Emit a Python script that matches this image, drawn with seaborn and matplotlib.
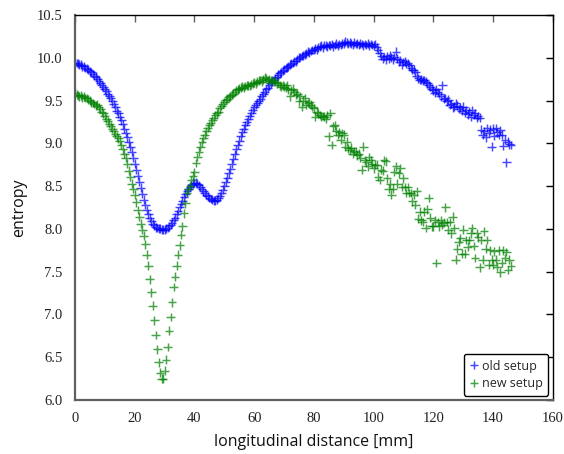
import matplotlib
matplotlib.use("Agg")
import matplotlib.pyplot as plt
import seaborn as sns
import pandas as pd
from matplotlib.ticker import FormatStrFormatter, MultipleLocator

# Sampling positions along the beam axis [mm] (0.5 mm steps)
distance_mm = [
    0.0, 0.5, 1.0, 1.5, 2.0, 2.5, 3.0, 3.5, 4.0, 4.5, 5.0, 5.5, 6.0, 6.5, 7.0, 7.5, 8.0, 8.5, 9.0, 9.5,
    10.0, 10.5, 11.0, 11.5, 12.0, 12.5, 13.0, 13.5, 14.0, 14.5, 15.0, 15.5, 16.0, 16.5, 17.0, 17.5, 18.0, 18.5, 19.0, 19.5,
    20.0, 20.5, 21.0, 21.5, 22.0, 22.5, 23.0, 23.5, 24.0, 24.5, 25.0, 25.5, 26.0, 26.5, 27.0, 27.5, 28.0, 28.5, 29.0, 29.5,
    30.0, 30.5, 31.0, 31.5, 32.0, 32.5, 33.0, 33.5, 34.0, 34.5, 35.0, 35.5, 36.0, 36.5, 37.0, 37.5, 38.0, 38.5, 39.0, 39.5,
    40.0, 40.5, 41.0, 41.5, 42.0, 42.5, 43.0, 43.5, 44.0, 44.5, 45.0, 45.5, 46.0, 46.5, 47.0, 47.5, 48.0, 48.5, 49.0, 49.5,
    50.0, 50.5, 51.0, 51.5, 52.0, 52.5, 53.0, 53.5, 54.0, 54.5, 55.0, 55.5, 56.0, 56.5, 57.0, 57.5, 58.0, 58.5, 59.0, 59.5,
    60.0, 60.5, 61.0, 61.5, 62.0, 62.5, 63.0, 63.5, 64.0, 64.5, 65.0, 65.5, 66.0, 66.5, 67.0, 67.5, 68.0, 68.5, 69.0, 69.5,
    70.0, 70.5, 71.0, 71.5, 72.0, 72.5, 73.0, 73.5, 74.0, 74.5, 75.0, 75.5, 76.0, 76.5, 77.0, 77.5, 78.0, 78.5, 79.0, 79.5,
    80.0, 80.5, 81.0, 81.5, 82.0, 82.5, 83.0, 83.5, 84.0, 84.5, 85.0, 85.5, 86.0, 86.5, 87.0, 87.5, 88.0, 88.5, 89.0, 89.5,
    90.0, 90.5, 91.0, 91.5, 92.0, 92.5, 93.0, 93.5, 94.0, 94.5, 95.0, 95.5, 96.0, 96.5, 97.0, 97.5, 98.0, 98.5, 99.0, 99.5,
    100.0, 100.5, 101.0, 101.5, 102.0, 102.5, 103.0, 103.5, 104.0, 104.5, 105.0, 105.5, 106.0, 106.5, 107.0, 107.5, 108.0, 108.5, 109.0, 109.5,
    110.0, 110.5, 111.0, 111.5, 112.0, 112.5, 113.0, 113.5, 114.0, 114.5, 115.0, 115.5, 116.0, 116.5, 117.0, 117.5, 118.0, 118.5, 119.0, 119.5,
    120.0, 120.5, 121.0, 121.5, 122.0, 122.5, 123.0, 123.5, 124.0, 124.5, 125.0, 125.5, 126.0, 126.5, 127.0, 127.5, 128.0, 128.5, 129.0, 129.5,
    130.0, 130.5, 131.0, 131.5, 132.0, 132.5, 133.0, 133.5, 134.0, 134.5, 135.0, 135.5, 136.0, 136.5, 137.0, 137.5, 138.0, 138.5, 139.0, 139.5,
    140.0, 140.5, 141.0, 141.5, 142.0, 142.5, 143.0, 143.5, 144.0, 144.5, 145.0, 145.5, 146.0,
]

# Entropy measured with the old setup
entropy_old = [
    9.94, 9.94, 9.93, 9.92, 9.92, 9.90, 9.90, 9.88, 9.87, 9.86, 9.84, 9.83, 9.81, 9.79, 9.78, 9.75, 9.73, 9.71, 9.68, 9.66,
    9.63, 9.61, 9.58, 9.55, 9.53, 9.49, 9.46, 9.42, 9.38, 9.35, 9.31, 9.27, 9.22, 9.17, 9.12, 9.07, 9.01, 8.96, 8.90, 8.83,
    8.76, 8.69, 8.62, 8.55, 8.48, 8.41, 8.34, 8.28, 8.22, 8.17, 8.13, 8.09, 8.06, 8.04, 8.02, 8.01, 8.00, 8.00, 7.99, 7.99,
    7.99, 8.00, 8.01, 8.03, 8.05, 8.07, 8.10, 8.13, 8.17, 8.21, 8.25, 8.29, 8.33, 8.37, 8.41, 8.44, 8.47, 8.49, 8.51, 8.53,
    8.54, 8.54, 8.53, 8.51, 8.49, 8.47, 8.44, 8.42, 8.40, 8.38, 8.36, 8.35, 8.34, 8.33, 8.33, 8.34, 8.36, 8.38, 8.42, 8.46,
    8.50, 8.55, 8.60, 8.65, 8.70, 8.76, 8.82, 8.87, 8.93, 8.98, 9.03, 9.08, 9.13, 9.17, 9.21, 9.25, 9.28, 9.32, 9.36, 9.39,
    9.42, 9.45, 9.47, 9.50, 9.52, 9.55, 9.58, 9.60, 9.63, 9.65, 9.68, 9.70, 9.72, 9.74, 9.76, 9.78, 9.80, 9.82, 9.83, 9.85,
    9.86, 9.88, 9.89, 9.90, 9.92, 9.93, 9.94, 9.96, 9.96, 9.98, 10.00, 10.01, 10.02, 10.03, 10.04, 10.05, 10.07, 10.06, 10.08, 10.09,
    10.09, 10.11, 10.10, 10.12, 10.13, 10.14, 10.12, 10.15, 10.14, 10.13, 10.15, 10.14, 10.16, 10.13, 10.15, 10.17, 10.14, 10.16, 10.15, 10.17,
    10.17, 10.19, 10.18, 10.16, 10.18, 10.17, 10.15, 10.18, 10.16, 10.17, 10.15, 10.17, 10.16, 10.14, 10.16, 10.15, 10.17, 10.14, 10.16, 10.15,
    10.14, 10.16, 10.12, 10.09, 10.06, 10.02, 9.99, 10.01, 9.98, 10.02, 9.99, 10.03, 10.00, 9.98, 10.01, 10.07, 9.99, 9.95, 9.97, 9.92,
    9.95, 9.96, 9.93, 9.94, 9.91, 9.88, 9.86, 9.86, 9.83, 9.79, 9.76, 9.74, 9.75, 9.73, 9.74, 9.72, 9.70, 9.68, 9.66, 9.64,
    9.62, 9.59, 9.63, 9.60, 9.58, 9.55, 9.68, 9.52, 9.53, 9.49, 9.51, 9.45, 9.46, 9.42, 9.43, 9.47, 9.44, 9.40, 9.42, 9.38,
    9.43, 9.36, 9.39, 9.34, 9.37, 9.31, 9.39, 9.33, 9.35, 9.30, 9.32, 9.30, 9.16, 9.10, 9.14, 9.07, 9.18, 9.12, 9.16, 8.96,
    9.17, 9.09, 9.18, 9.13, 9.10, 9.15, 9.10, 8.97, 9.04, 8.78, 9.02, 8.99, 8.98,
]

# Entropy measured with the new setup
entropy_new = [
    9.59, 9.57, 9.56, 9.55, 9.56, 9.54, 9.55, 9.53, 9.53, 9.51, 9.50, 9.48, 9.47, 9.46, 9.44, 9.45, 9.42, 9.40, 9.37, 9.35,
    9.32, 9.29, 9.26, 9.23, 9.20, 9.17, 9.14, 9.11, 9.08, 9.06, 9.03, 8.98, 8.93, 8.88, 8.83, 8.76, 8.68, 8.61, 8.53, 8.47,
    8.40, 8.31, 8.22, 8.14, 8.06, 7.99, 7.92, 7.82, 7.70, 7.57, 7.41, 7.26, 7.10, 6.93, 6.76, 6.59, 6.44, 6.32, 6.25, 6.25,
    6.34, 6.47, 6.62, 6.81, 6.97, 7.14, 7.32, 7.44, 7.57, 7.70, 7.81, 7.93, 8.03, 8.18, 8.30, 8.42, 8.47, 8.50, 8.57, 8.62,
    8.66, 8.77, 8.84, 8.90, 8.96, 9.01, 9.06, 9.10, 9.14, 9.18, 9.21, 9.24, 9.27, 9.30, 9.33, 9.35, 9.37, 9.41, 9.44, 9.46,
    9.48, 9.51, 9.52, 9.54, 9.55, 9.57, 9.58, 9.60, 9.62, 9.63, 9.64, 9.65, 9.66, 9.65, 9.67, 9.68, 9.68, 9.67, 9.69, 9.70,
    9.71, 9.70, 9.72, 9.73, 9.74, 9.72, 9.75, 9.77, 9.76, 9.74, 9.75, 9.73, 9.74, 9.72, 9.72, 9.70, 9.71, 9.68, 9.66, 9.68,
    9.66, 9.65, 9.68, 9.63, 9.55, 9.62, 9.64, 9.60, 9.57, 9.58, 9.49, 9.55, 9.43, 9.50, 9.53, 9.45, 9.47, 9.48, 9.45, 9.43,
    9.41, 9.31, 9.37, 9.35, 9.33, 9.31, 9.32, 9.31, 9.29, 9.33, 9.08, 9.35, 8.98, 9.20, 9.21, 9.14, 9.10, 9.13, 9.04, 9.12,
    9.10, 8.96, 9.02, 8.94, 8.92, 8.95, 8.88, 8.91, 8.90, 8.86, 8.88, 8.83, 8.69, 8.96, 8.80, 8.78, 8.73, 8.84, 8.80, 8.76,
    8.71, 8.75, 8.75, 8.61, 8.57, 8.69, 8.68, 8.80, 8.79, 8.59, 8.47, 8.53, 8.40, 8.47, 8.67, 8.73, 8.53, 8.65, 8.71, 8.49,
    8.59, 8.49, 8.42, 8.49, 8.42, 8.42, 8.32, 8.40, 8.28, 8.44, 8.12, 8.20, 8.10, 8.08, 8.20, 8.01, 8.23, 8.36, 8.13, 8.03,
    8.03, 8.10, 7.60, 8.08, 8.03, 8.10, 8.05, 8.07, 8.25, 8.08, 7.99, 8.08, 7.95, 8.14, 8.01, 7.64, 7.77, 7.85, 7.89, 7.71,
    7.99, 7.71, 7.87, 7.79, 7.87, 7.95, 8.01, 7.80, 7.66, 7.95, 7.90, 7.55, 7.87, 7.64, 7.97, 7.77, 7.87, 7.58, 7.75, 7.64,
    7.58, 7.74, 7.64, 7.56, 7.75, 7.49, 7.60, 7.75, 7.66, 7.73, 7.52, 7.64, 7.57,
]

series_names = ["old setup", "new setup"]
series_colors = ["#0000ff", "#008000"]

df = pd.concat([
    pd.DataFrame({"distance": distance_mm, "entropy": entropy_old, "setup": series_names[0]}),
    pd.DataFrame({"distance": distance_mm, "entropy": entropy_new, "setup": series_names[1]}),
], ignore_index=True)

sns.set_style("white")
plt.rcParams["font.family"] = ["Open Sans", "DejaVu Sans"]

fig = plt.figure(figsize=(5.64, 4.54), dpi=100)
ax = fig.add_axes([0.133, 0.119, 0.847, 0.848])

sns.scatterplot(
    data=df, x="distance", y="entropy", hue="setup",
    hue_order=series_names, palette=dict(zip(series_names, series_colors)),
    marker="+", s=40, linewidth=1.05, alpha=0.72, ax=ax, legend=True,
)

ax.set_xlim(0, 160)
ax.set_ylim(6.0, 10.5)
ax.xaxis.set_major_locator(MultipleLocator(20))
ax.yaxis.set_major_locator(MultipleLocator(0.5))
ax.yaxis.set_major_formatter(FormatStrFormatter("%.1f"))

ax.set_xlabel("longitudinal distance [mm]", fontsize=11.5, color="#111111", labelpad=6)
ax.set_ylabel("entropy", fontsize=11.5, color="#111111", labelpad=7)

# Axis frame: grey left/bottom with outward ticks, black top/right with inward ticks
for side in ("left", "bottom"):
    ax.spines[side].set_color("#606060")
    ax.spines[side].set_linewidth(1.6)
for side in ("top", "right"):
    ax.spines[side].set_color("black")
    ax.spines[side].set_linewidth(1.0)
    ax.spines[side].set_visible(True)

ax.tick_params(axis="both", which="major", direction="out", length=5, width=1.0,
               color="#606060", labelsize=10.5, labelcolor="#222222", pad=4,
               labelfontfamily="Liberation Serif", top=False, right=False)

# Inward ticks on the top and right edges drawn via secondary axes
top = ax.secondary_xaxis("top")
top.xaxis.set_major_locator(MultipleLocator(20))
top.tick_params(direction="in", length=5, width=1.0, color="#606060", labeltop=False)
top.spines["top"].set_visible(False)
right = ax.secondary_yaxis("right")
right.yaxis.set_major_locator(MultipleLocator(0.5))
right.tick_params(direction="in", length=5, width=1.0, color="black", labelright=False)
right.spines["right"].set_visible(False)

handles, labels = ax.get_legend_handles_labels()
leg = ax.legend(handles, labels, loc="lower right", fontsize=9, frameon=True,
                fancybox=True, edgecolor="black", borderpad=0.45, handletextpad=0.2,
                handlelength=0.8, labelspacing=0.35, borderaxespad=0.35)
leg.get_frame().set_linewidth(1.0)
leg.get_frame().set_alpha(1.0)

fig.savefig("out.png", dpi=100)
